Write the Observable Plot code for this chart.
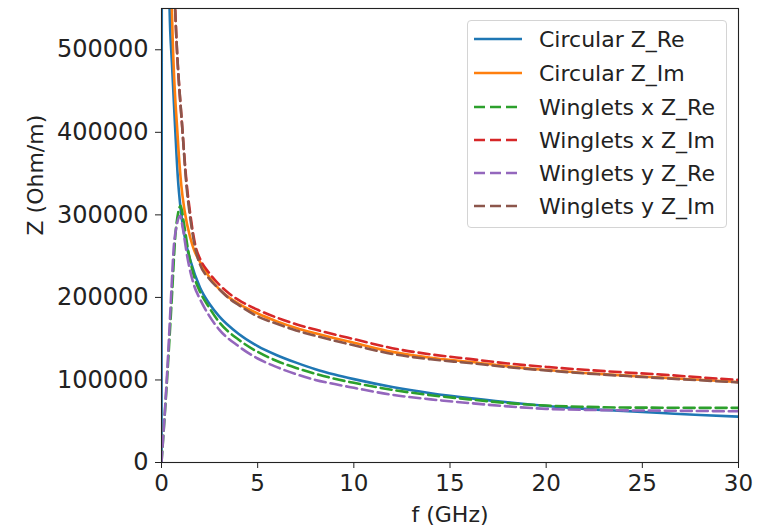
<!DOCTYPE html>
<html><head><meta charset="utf-8">
<script src="https://cdn.jsdelivr.net/npm/d3@7"></script>
<script src="https://cdn.jsdelivr.net/npm/@observablehq/plot@0.6"></script>
<style>
body{margin:0;background:#fff;}
#wrap{position:relative;width:778px;height:527px;font-family:"DejaVu Sans",sans-serif;}
#legend{position:absolute;left:467px;top:20px;width:260px;height:208px;border:1px solid #d4d4d4;border-radius:4px;background:rgba(255,255,255,0.8);box-sizing:border-box;}
.item{position:absolute;left:0;display:flex;align-items:center;height:24px;margin-top:-12px;}
.item span{font-size:22px;color:#222;margin-left:17px;white-space:nowrap;}
</style></head><body><div id="wrap"></div>
<script>
// Series labels, colours and dash flags
const seriesNames = ["Circular Z_Re","Circular Z_Im","Winglets x Z_Re","Winglets x Z_Im","Winglets y Z_Re","Winglets y Z_Im"];
const seriesColors = ["#1f77b4","#ff7f0e","#2ca02c","#d62728","#9467bd","#8c564b"];
const seriesDashed = [false,false,true,true,true,true];

// Values (f in GHz, Z in Ohm/m)
const circReF = [0,0.05,0.42,0.54,0.71,0.85,1.0,1.25,1.5,2.0,2.5,3.0,4.0,5.0,6.0,7.0,8.0,9.0,10,12,14,16,18,20,22,24,26,28,30];
const circReZ = [0,2000000,550000,485000,405000,345000,306000,268000,245000,212000,192000,177000,156000,141000,130000,121000,113000,106500,101000,91500,84000,78000,73000,68500,65000,62500,60000,57500,55500];

const circImF = [0.3,0.54,0.83,1.02,1.2,1.5,1.7,2.0,2.5,3.0,3.5,4.0,5.0,6.0,7.0,8.0,9.0,10,12,14,16,18,20,22,24,26,28,30];
const circImZ = [900000,550000,399000,338000,305000,272000,257000,243000,224000,210000,200000,192500,180500,171000,163000,156500,150500,145000,134000,127000,122000,116500,112000,108500,105500,102800,100200,97500];

const wxReF = [0,0.3,0.55,0.72,0.87,1.0,1.15,1.4,1.7,2.0,2.5,3.0,4.0,5.0,6.0,7.0,8.0,9.0,10,12,14,16,18,20,22,24,26,28,30];
const wxReZ = [0,105000,205000,275000,303000,311000,292000,255000,225000,207000,187000,170000,149000,134000,123000,114500,107500,101500,96500,88000,81500,76500,72000,69000,67500,66600,66400,66200,66200];

const wxImF = [0.4,0.71,1.1,1.3,1.49,1.77,2.0,2.5,3.0,3.5,4.0,5.0,6.0,7.0,8.0,9.0,10,12,14,16,18,20,22,24,26,28,30];
const wxImZ = [800000,550000,399000,340000,302000,262000,247000,229000,215500,205000,197000,185000,175500,167500,161000,155000,149500,138500,131000,125500,120000,115800,112300,109300,106500,103200,100000];

const wyReF = [0,0.28,0.54,0.62,0.8,0.97,1.1,1.35,1.7,2.0,2.5,3.0,4.0,5.0,6.0,7.0,8.0,9.0,10,12,14,16,18,20,22,24,26,28,30];
const wyReZ = [0,103000,220000,255000,288000,299000,285000,248000,214000,198000,177000,161000,141000,126000,115500,107000,100000,95000,90500,82000,76500,72000,68000,65000,63800,63200,62800,62400,62000];

const wyImF = [0.4,0.71,1.1,1.3,1.49,1.77,2.0,2.5,3.0,3.5,4.0,5.0,6.0,7.0,8.0,9.0,10,12,14,16,18,20,22,24,26,28,30];
const wyImZ = [800000,550000,399000,335000,297000,258000,240000,222000,210000,199000,191000,177000,168000,160000,153500,147500,142000,131500,125000,120500,115500,111500,108000,105000,102200,99600,97000];

const xTicks = [0,5,10,15,20,25,30];
const yTicks = [0,100000,200000,300000,400000,500000];

const allF = [circReF,circImF,wxReF,wxImF,wyReF,wyImF];
const allZ = [circReZ,circImZ,wxReZ,wxImZ,wyReZ,wyImZ];
const series = allF.map((fs,i)=>fs.map((f,j)=>({f, z: allZ[i][j], s: seriesNames[i]})));

const dash = "11,5";
const marks = [];
series.forEach((data,i)=>{
  marks.push(Plot.line(data,{x:"f",y:"z",stroke:seriesColors[i],strokeWidth:2.6,
    strokeDasharray: seriesDashed[i] ? dash : null, curve:"monotone-x", clip:true}));
});

const chart = Plot.plot({
  width:778, height:527,
  marginLeft:161, marginRight:40, marginTop:8, marginBottom:65,
  style:{fontFamily:"DejaVu Sans, sans-serif", fontSize:"23px", color:"#222", background:"#fff"},
  x:{domain:[0,30]},
  y:{domain:[0,550000]},
  marks:[
    ...marks,
    Plot.frame({stroke:"#222", strokeWidth:1.1}),
    Plot.axisX(xTicks,{tickSize:6, tickPadding:6, label:null, stroke:"#222", fontSize:23}),
    Plot.axisY(yTicks,{tickSize:6, tickPadding:7, label:null, tickFormat:d3.format("d"), stroke:"#222", fontSize:24}),
    Plot.text(["f (GHz)"],{text:d=>d, frameAnchor:"bottom", dy:59, lineAnchor:"bottom", fontSize:22, fill:"#222"}),
    Plot.text(["Z (Ohm/m)"],{text:d=>d, frameAnchor:"left", dx:-126, rotate:-90, fontSize:22, fill:"#222"})
  ]
});
const wrap = document.getElementById("wrap");
wrap.appendChild(chart);

const legend = document.createElement("div");
legend.id = "legend";
wrap.appendChild(legend);
const rowY = [18,52,86,119,152,185];
seriesNames.forEach((name,i)=>{
  const it = document.createElement("div");
  it.className = "item";
  it.style.top = rowY[i] + "px";
  it.innerHTML = `<svg width="48" height="24" style="margin-left:6px"><line x1="0" x2="48" y1="12" y2="12" stroke="${seriesColors[i]}" stroke-width="2.6" ${seriesDashed[i] ? 'stroke-dasharray="' + dash + '"' : ''}/></svg><span>${name}</span>`;
  legend.appendChild(it);
});
</script></body></html>
